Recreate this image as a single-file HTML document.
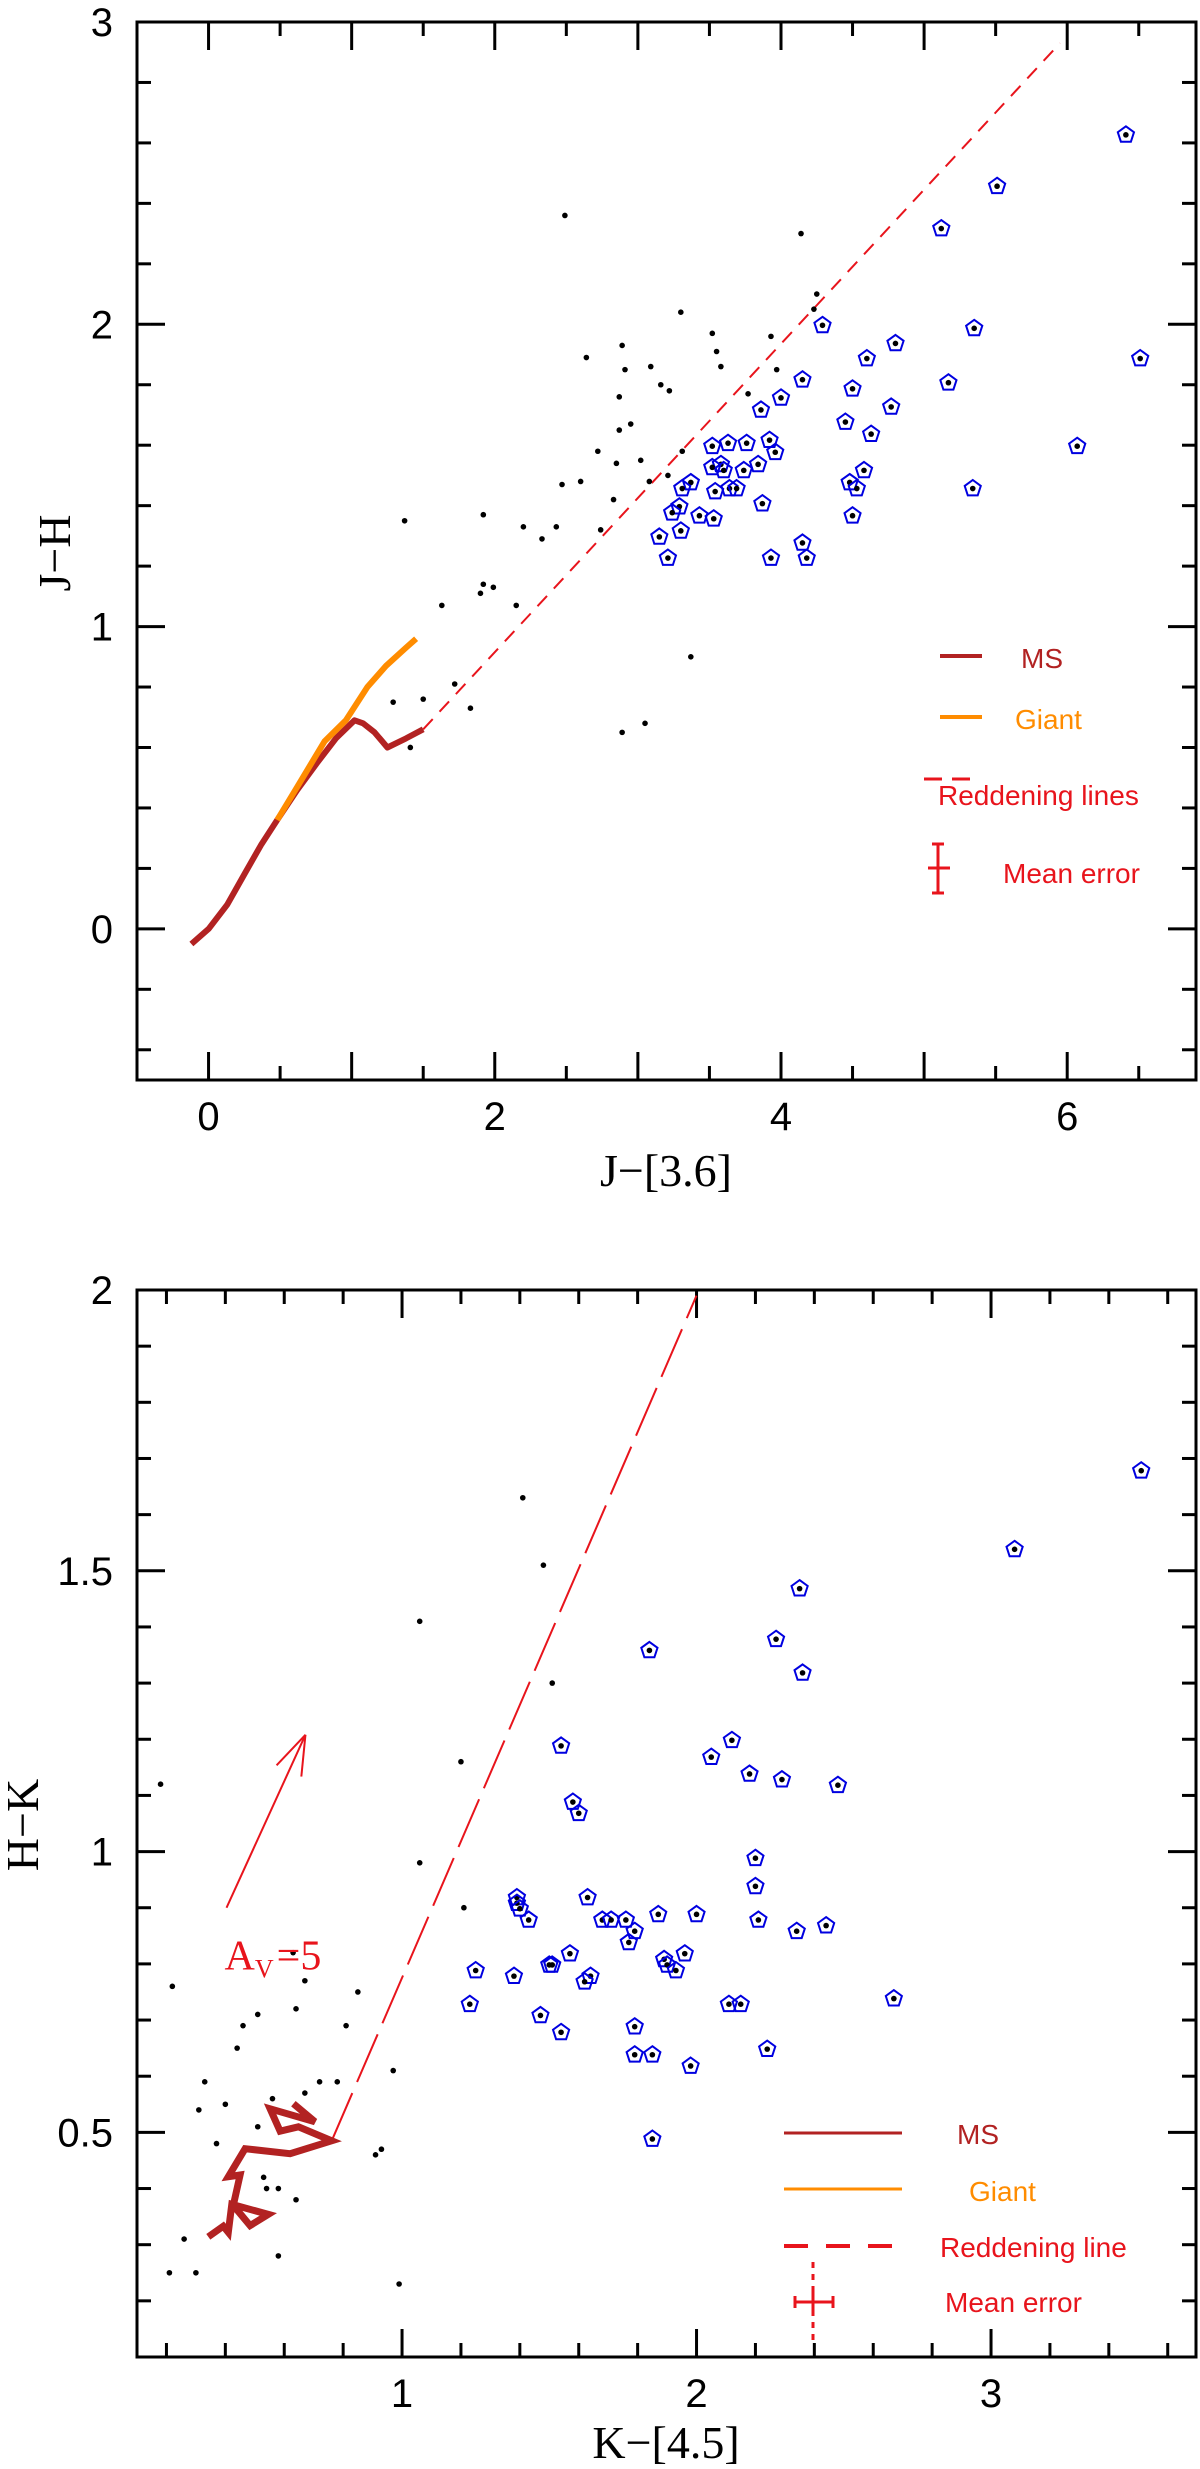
<!DOCTYPE html>
<html><head><meta charset="utf-8"><style>
html,body{margin:0;padding:0;background:#fff;}
svg{display:block;}
text{font-family:"Liberation Sans",sans-serif;}
.tick{font-size:40px;fill:#000;}
.serif{font-family:"Liberation Serif",serif;}
</style></head><body>
<svg id="chart" width="1200" height="2469" viewBox="0 0 1200 2469" xmlns="http://www.w3.org/2000/svg"></svg>
<script>
// ---- Top panel data (J-[3.6] vs J-H) ----
const topFieldX = [2.49,4.14,4.25,4.23,3.30,3.52,3.55,3.58,3.93,3.97,2.64,2.89,2.91,3.09,3.16,3.22,2.87,3.77,2.95,2.87,2.72,2.85,3.02,3.31,3.21,3.08,2.47,2.60,2.83,1.37,1.92,2.20,2.43,2.33,2.74,1.92,1.90,1.99,2.15,1.63,3.37,1.72,1.29,1.50,1.83,1.41,3.05,2.89];
const topFieldY = [2.36,2.30,2.10,2.05,2.04,1.97,1.91,1.86,1.96,1.85,1.89,1.93,1.85,1.86,1.80,1.78,1.76,1.77,1.67,1.65,1.58,1.54,1.55,1.58,1.50,1.48,1.47,1.48,1.42,1.35,1.37,1.33,1.33,1.29,1.32,1.14,1.11,1.13,1.07,1.07,0.90,0.81,0.75,0.76,0.73,0.60,0.68,0.65];
const topYsoX = [6.41,5.51,5.12,4.29,5.35,4.80,6.51,4.60,4.15,4.50,5.17,4.00,3.86,4.77,4.45,4.63,3.92,3.96,3.52,3.63,3.76,6.07,3.58,3.52,3.60,3.74,3.84,4.58,4.48,4.53,5.34,3.37,3.31,3.54,3.64,3.69,3.87,3.29,3.24,3.43,3.53,4.50,3.15,3.30,3.21,3.93,4.15,4.18];
const topYsoY = [2.63,2.46,2.32,2.00,1.99,1.94,1.89,1.89,1.82,1.79,1.81,1.76,1.72,1.73,1.68,1.64,1.62,1.58,1.60,1.61,1.61,1.60,1.54,1.53,1.52,1.52,1.54,1.52,1.48,1.46,1.46,1.48,1.46,1.45,1.46,1.46,1.41,1.40,1.38,1.37,1.36,1.37,1.30,1.32,1.23,1.23,1.28,1.23];
const topMsX = [-0.12,0,0.13,0.25,0.37,0.48,0.62,0.76,0.89,1.02,1.08,1.16,1.25,1.38,1.50];
const topMsY = [-0.05,0,0.08,0.18,0.28,0.36,0.46,0.55,0.63,0.69,0.68,0.65,0.60,0.63,0.66];
const topGiantX = [0.48,0.62,0.81,0.96,1.11,1.24,1.38,1.45];
const topGiantY = [0.36,0.47,0.62,0.69,0.80,0.87,0.93,0.96];
const topReddenX = [1.50,5.95];
const topReddenY = [0.66,2.93];
const topXTicks = [0,2,4,6];
const topYTicks = [0,1,2,3];

// ---- Bottom panel data (K-[4.5] vs H-K) ----
const botFieldX = [1.41,1.48,1.06,1.51,1.20,0.18,1.06,1.21,0.22,0.63,0.67,0.85,0.64,0.51,0.46,0.81,0.44,0.97,0.33,0.72,0.78,0.56,0.67,0.40,0.31,0.51,0.37,0.93,0.91,0.53,0.54,0.58,0.64,0.26,0.58,0.21,0.30,0.99];
const botFieldY = [1.63,1.51,1.41,1.30,1.16,1.12,0.98,0.90,0.76,0.82,0.77,0.75,0.72,0.71,0.69,0.69,0.65,0.61,0.59,0.59,0.59,0.56,0.57,0.55,0.54,0.51,0.48,0.47,0.46,0.42,0.40,0.40,0.38,0.31,0.28,0.25,0.25,0.23];
const botYsoX = [3.51,3.08,2.35,2.27,2.36,1.84,1.54,2.12,2.05,2.18,2.29,2.48,1.58,1.60,2.20,2.20,1.39,1.39,1.40,1.63,1.43,1.68,1.71,1.76,1.87,2.00,2.21,1.79,1.77,2.34,2.44,1.25,1.38,1.50,1.51,1.57,1.64,1.62,1.89,1.90,1.96,1.93,1.23,2.11,2.15,2.67,1.47,1.54,1.79,1.79,1.85,2.24,1.98,1.85];
const botYsoY = [1.68,1.54,1.47,1.38,1.32,1.36,1.19,1.20,1.17,1.14,1.13,1.12,1.09,1.07,0.99,0.94,0.92,0.91,0.90,0.92,0.88,0.88,0.88,0.88,0.89,0.89,0.88,0.86,0.84,0.86,0.87,0.79,0.78,0.80,0.80,0.82,0.78,0.77,0.81,0.80,0.82,0.79,0.73,0.73,0.73,0.74,0.71,0.68,0.69,0.64,0.64,0.65,0.62,0.49];
const botMsX = [0.342,0.393,0.410,0.422,0.546,0.484,0.427,0.450,0.410,0.467,0.620,0.761,0.648,0.586,0.552,0.704,0.631];
const botMsY = [0.314,0.333,0.322,0.372,0.354,0.334,0.370,0.424,0.421,0.471,0.462,0.485,0.510,0.502,0.542,0.519,0.551];
const botReddenX = [0.761,2.0];
const botReddenY = [0.485,1.99];
const avArrowX = [0.404,0.672];
const avArrowY = [0.90,1.208];
const botXTicks = [1,2,3];
const botYTicks = [0.5,1,1.5,2];

const NS = "http://www.w3.org/2000/svg";
const svg = document.getElementById('chart');
function mk(tag, attrs, parent){
  const e = document.createElementNS(NS, tag);
  for (const k in attrs) e.setAttribute(k, attrs[k]);
  (parent||svg).appendChild(e);
  return e;
}
function scale(d0,d1,p0,p1){return v => p0 + (v-d0)*(p1-p0)/(d1-d0);}

function panel(cfg){
  const g = mk('g',{});
  
  
  const sx = scale(cfg.xmin,cfg.xmax,cfg.L,cfg.R);
  const sy = scale(cfg.ymin,cfg.ymax,cfg.B,cfg.T);
  const tg = mk('g',{stroke:'#000','stroke-width':3},g);
  
  
  for (let i=Math.ceil(cfg.xmin/cfg.xminor-1e-6); i*cfg.xminor<=cfg.xmax+1e-6; i++){
    const v=i*cfg.xminor; const x=sx(v);
    const major = Math.abs(v/cfg.xmajor - Math.round(v/cfg.xmajor))<1e-6;
    const len = major?28:14;
    mk('line',{x1:x,x2:x,y1:cfg.B,y2:cfg.B-len},tg);
    mk('line',{x1:x,x2:x,y1:cfg.T,y2:cfg.T+len},tg);
  }
  for (let i=Math.ceil(cfg.ymin/cfg.yminor-1e-6); i*cfg.yminor<=cfg.ymax+1e-6; i++){
    const v=i*cfg.yminor; const y=sy(v);
    const major = Math.abs(v/cfg.ymajor - Math.round(v/cfg.ymajor))<1e-6;
    const len = major?28:14;
    mk('line',{x1:cfg.L,x2:cfg.L+len,y1:y,y2:y},tg);
    mk('line',{x1:cfg.R,x2:cfg.R-len,y1:y,y2:y},tg);
  }
  cfg.xticks.forEach(v=>{
    const t = mk('text',{x:sx(v),y:cfg.B+50,'text-anchor':'middle','class':'tick'},g);
    
    
    t.textContent = String(v);
  });
  cfg.yticks.forEach(v=>{
    const t = mk('text',{x:cfg.L-24,y:sy(v)+14,'text-anchor':'end','class':'tick'},g);
    
    
    t.textContent = String(v);
  });
  const fr = mk('rect',{x:cfg.L,y:cfg.T,width:cfg.R-cfg.L,height:cfg.B-cfg.T,fill:'none',stroke:'#000','stroke-width':3},g);
  
  
  return {g,sx,sy};
}
function poly(g,xs,ys,sx,sy,attrs,name){
  const pts = xs.map((x,i)=>sx(x).toFixed(1)+','+sy(ys[i]).toFixed(1)).join(' ');
  const p = mk('polyline',Object.assign({points:pts,fill:'none'},attrs),g);
  
  
  return p;
}
function dots(g,xs,ys,sx,sy,name){
  xs.forEach((x,i)=>{
    const c = mk('circle',{cx:sx(x),cy:sy(ys[i]),r:2.8,fill:'#000'},g);
    
    
  });
}
function pentas(g,xs,ys,sx,sy,name){
  xs.forEach((x,i)=>{
    const cx=sx(x), cy=sy(ys[i]); const r=8.5; let pts=[];
    for(let k=0;k<5;k++){const a=-Math.PI/2+k*2*Math.PI/5; pts.push((cx+r*Math.cos(a)).toFixed(1)+','+(cy+r*Math.sin(a)+1).toFixed(1));}
    const p = mk('polygon',{points:pts.join(' '),fill:'none',stroke:'#0000e0','stroke-width':2},g);
    
    
    const c = mk('circle',{cx:cx,cy:cy+1,r:2.8,fill:'#000'},g);
    
    
  });
}
function txt(g,x,y,s,attrs,name){
  const t = mk('text',Object.assign({x:x,y:y},attrs),g);
  
  
  t.textContent = s; return t;
}
function line(g,x1,y1,x2,y2,attrs,name){
  const l = mk('line',Object.assign({x1,y1,x2,y2},attrs),g);
  
  
  return l;
}

// ===== TOP PANEL =====
const P1 = panel({name:'top-panel',L:137,R:1196,T:22,B:1080,xmin:-0.5,xmax:6.9,ymin:-0.5,ymax:3.0,
  xminor:0.5,xmajor:1,yminor:0.2,ymajor:1,xticks:topXTicks,yticks:topYTicks});
poly(P1.g,topReddenX,topReddenY,P1.sx,P1.sy,{stroke:'#e8141c','stroke-width':2,'stroke-dasharray':'14,10'},'reddening-line');
poly(P1.g,topMsX,topMsY,P1.sx,P1.sy,{stroke:'#b22222','stroke-width':6,'stroke-linejoin':'round'},'ms-track');
poly(P1.g,topGiantX,topGiantY,P1.sx,P1.sy,{stroke:'#ff8c00','stroke-width':6,'stroke-linejoin':'round'},'giant-track');
dots(P1.g,topFieldX,topFieldY,P1.sx,P1.sy,'field-star');
pentas(P1.g,topYsoX,topYsoY,P1.sx,P1.sy,'yso-marker');
txt(P1.g,666,1186,'J\u2212[3.6]',{'text-anchor':'middle','font-size':46,'class':'serif'},'x-axis-title');
txt(P1.g,0,0,'J\u2212H',{'text-anchor':'middle','font-size':46,'class':'serif',transform:'translate(70,553) rotate(-90)'},'y-axis-title');
line(P1.g,940,656,982,656,{stroke:'#b22222','stroke-width':4},'legend-ms-line');
txt(P1.g,1021,668,'MS',{'font-size':28,fill:'#b22222'},'legend-ms-label');
line(P1.g,940,717,982,717,{stroke:'#ff8c00','stroke-width':4},'legend-giant-line');
txt(P1.g,1015,729,'Giant',{'font-size':28,fill:'#ff8c00'},'legend-giant-label');
line(P1.g,924,779,972,779,{stroke:'#e8141c','stroke-width':3,'stroke-dasharray':'18,10'},'legend-reddening-line');
txt(P1.g,938,805,'Reddening lines',{'font-size':28,fill:'#e8141c'},'legend-reddening-label');
line(P1.g,938,844,938,893,{stroke:'#e8141c','stroke-width':3},'mean-error-y');
line(P1.g,932,844,944,844,{stroke:'#e8141c','stroke-width':3},'mean-error-cap-top');
line(P1.g,932,893,944,893,{stroke:'#e8141c','stroke-width':3},'mean-error-cap-bottom');
line(P1.g,928,868,950,868,{stroke:'#e8141c','stroke-width':3},'mean-error-x');
txt(P1.g,1003,883,'Mean error',{'font-size':28,fill:'#e8141c'},'legend-mean-error-label');

// ===== BOTTOM PANEL =====
const P2 = panel({name:'bottom-panel',L:137,R:1196,T:1290,B:2357,xmin:0.1,xmax:3.696,ymin:0.1,ymax:2.0,
  xminor:0.2,xmajor:1,yminor:0.1,ymajor:0.5,xticks:botXTicks,yticks:botYTicks});
poly(P2.g,botReddenX,botReddenY,P2.sx,P2.sy,{stroke:'#e8141c','stroke-width':2,'stroke-dasharray':'52,12'},'reddening-line');
poly(P2.g,botMsX,botMsY,P2.sx,P2.sy,{stroke:'#b22222','stroke-width':7,'stroke-linejoin':'miter'},'ms-track');
dots(P2.g,botFieldX,botFieldY,P2.sx,P2.sy,'field-star');
pentas(P2.g,botYsoX,botYsoY,P2.sx,P2.sy,'yso-marker');
(function(){
  const x1=P2.sx(avArrowX[0]), y1=P2.sy(avArrowY[0]), x2=P2.sx(avArrowX[1]), y2=P2.sy(avArrowY[1]);
  line(P2.g,x1,y1,x2,y2,{stroke:'#e8141c','stroke-width':2},'extinction-arrow');
  const a=Math.atan2(y2-y1,x2-x1), h=42, s=0.33;
  line(P2.g,x2,y2,x2-h*Math.cos(a-s),y2-h*Math.sin(a-s),{stroke:'#e8141c','stroke-width':2},'arrow-head-left');
  line(P2.g,x2,y2,x2-h*Math.cos(a+s),y2-h*Math.sin(a+s),{stroke:'#e8141c','stroke-width':2},'arrow-head-right');
  const t = txt(P2.g,x1-2,y1+62,'',{'font-size':42,fill:'#e8141c','class':'serif'},'extinction-label');
  t.innerHTML = 'A<tspan font-size="26" dy="8">V</tspan><tspan dx="3" dy="-8">=5</tspan>';
})();
txt(P2.g,666,2458,'K\u2212[4.5]',{'text-anchor':'middle','font-size':46,'class':'serif'},'x-axis-title');
txt(P2.g,0,0,'H\u2212K',{'text-anchor':'middle','font-size':46,'class':'serif',transform:'translate(38,1825) rotate(-90)'},'y-axis-title');
line(P2.g,784,2133,902,2133,{stroke:'#b22222','stroke-width':3},'legend-ms-line');
txt(P2.g,957,2144,'MS',{'font-size':28,fill:'#b22222'},'legend-ms-label');
line(P2.g,784,2189,902,2189,{stroke:'#ff8c00','stroke-width':3},'legend-giant-line');
txt(P2.g,969,2201,'Giant',{'font-size':28,fill:'#ff8c00'},'legend-giant-label');
line(P2.g,784,2246,892,2246,{stroke:'#e8141c','stroke-width':4,'stroke-dasharray':'24,18'},'legend-reddening-line');
txt(P2.g,940,2257,'Reddening line',{'font-size':28,fill:'#e8141c'},'legend-reddening-label');
line(P2.g,813,2262,813,2341,{stroke:'#e8141c','stroke-width':3,'stroke-dasharray':'6,6'},'mean-error-y-dotted');
line(P2.g,813,2288,813,2316,{stroke:'#e8141c','stroke-width':3},'mean-error-y');
line(P2.g,795,2302,833,2302,{stroke:'#e8141c','stroke-width':3},'mean-error-x');
line(P2.g,795,2296,795,2308,{stroke:'#e8141c','stroke-width':3},'mean-error-cap-left');
line(P2.g,833,2296,833,2308,{stroke:'#e8141c','stroke-width':3},'mean-error-cap-right');
txt(P2.g,945,2312,'Mean error',{'font-size':28,fill:'#e8141c'},'legend-mean-error-label');
</script>
</body></html>
